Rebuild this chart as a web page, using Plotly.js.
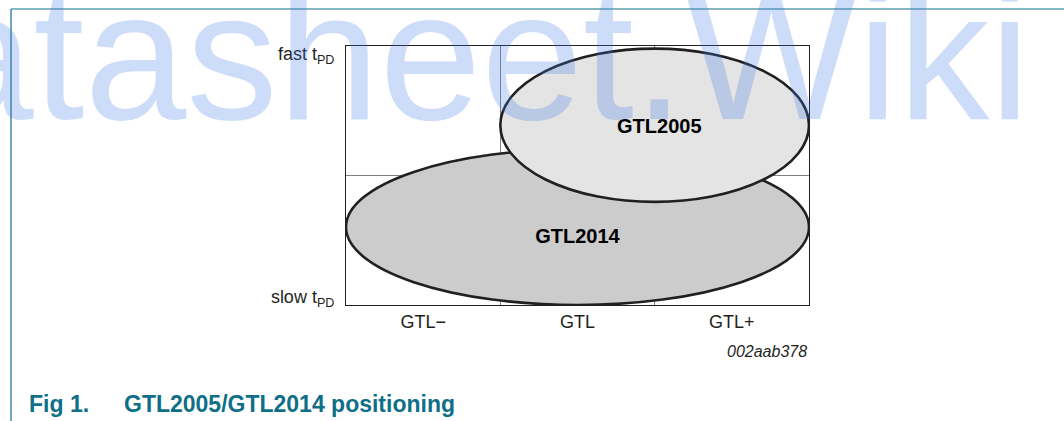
<!DOCTYPE html>
<html>
<head>
<meta charset="utf-8">
<script src="https://cdn.plot.ly/plotly-3.0.1.min.js"></script>
<style>
html,body{margin:0;padding:0;background:#fff;}
#chart{width:1064px;height:421px;}
</style>
</head>
<body>
<div id="chart"></div>
<script>
// ---- data ----
const xCategories = ['GTL\u2212', 'GTL', 'GTL+'];
const xCategoryCenters = [0.5, 1.5, 2.5];
const yTickLabels = ['slow t<sub>PD</sub>', 'fast t<sub>PD</sub>'];
const yTickVals = [0.032, 0.97];
const regionNames = ['GTL2014', 'GTL2005'];
const regionX0 = [0, 1];
const regionX1 = [3, 3];
const regionY0 = [0, 0.398];
const regionY1 = [0.602, 0.99];
const regionFill = ['#cccccc', '#e4e4e4'];
const labelX = [1.5, 2.03];
const labelY = [0.257, 0.683];
const figCode = '002aab378';
const figNumber = 'Fig 1.';
const figTitle = 'GTL2005/GTL2014 positioning';
const watermark = 'datasheet.Wiki';

const FONT = 'Liberation Sans, Arial, Helvetica, sans-serif';
const INK = '#231f20';
const TEAL = '#0f6f89';

const shapes = [];
// decorative page frame (teal)
shapes.push({type:'line', xref:'paper', yref:'paper', x0:-0.7235, x1:1.56, y0:1.1429, y1:1.1429,
  line:{color:TEAL, width:1}, layer:'below'});
shapes.push({type:'line', xref:'paper', yref:'paper', x0:-0.7235, x1:-0.7235, y0:1.1429, y1:-0.46,
  line:{color:TEAL, width:1.2}, layer:'below'});
// region ellipses (between gridlines and traces)
for (let i = 0; i < regionNames.length; i++) {
  shapes.push({type:'circle', xref:'x', yref:'y',
    x0:regionX0[i], x1:regionX1[i], y0:regionY0[i], y1:regionY1[i],
    fillcolor:regionFill[i], line:{color:INK, width:2.6}, layer:'between'});
}

const traces = [{
  type:'scatter', mode:'text', x:labelX, y:labelY, text:regionNames.map(t => '<b>'+t+'</b>'),
  textfont:{family:FONT, size:20, color:'#000'}, textposition:'middle center',
  hoverinfo:'skip', showlegend:false, cliponaxis:false
}];

const annotations = [
  {text:watermark, xref:'paper', yref:'paper', x:-1.119, y:0.963, xanchor:'left', yanchor:'middle',
   showarrow:false, font:{family:FONT, size:183, color:'rgba(60,120,230,0.26)'}},
  {text:'<i>'+figCode+'</i>', xref:'paper', yref:'paper', x:1, y:-0.181, xanchor:'right', yanchor:'middle',
   showarrow:false, font:{family:FONT, size:16, color:INK}},
  {text:'<b>'+figNumber+'</b>', xref:'paper', yref:'paper', x:(27-346)/463, y:-0.382, xanchor:'left', yanchor:'middle',
   showarrow:false, font:{family:FONT, size:23, color:TEAL}},
  {text:'<b>'+figTitle+'</b>', xref:'paper', yref:'paper', x:(122-346)/463, y:-0.382, xanchor:'left', yanchor:'middle',
   showarrow:false, font:{family:FONT, size:23, color:TEAL}}
];

const layout = {
  width:1064, height:421,
  margin:{l:346, r:255, t:46, b:116, pad:0},
  paper_bgcolor:'#fff', plot_bgcolor:'#fff',
  showlegend:false,
  font:{family:FONT, color:INK},
  xaxis:{range:[0,3], fixedrange:true, showline:true, mirror:true, linecolor:INK, linewidth:1,
    tickvals:xCategoryCenters, ticktext:xCategories, ticks:'', showgrid:false, zeroline:false,
    tickfont:{family:FONT, size:18, color:INK}, ticklabelstandoff:0,
    minor:{tick0:0, dtick:1, showgrid:true, gridcolor:'#808080', gridwidth:1.5, ticks:''}},
  yaxis:{range:[0,1], fixedrange:true, showline:true, mirror:true, linecolor:INK, linewidth:1,
    tickvals:yTickVals, ticktext:yTickLabels, ticks:'', showgrid:false, zeroline:false,
    tickfont:{family:FONT, size:18, color:INK}, ticklabelstandoff:7,
    minor:{tick0:0, dtick:0.5, showgrid:true, gridcolor:'#808080', gridwidth:1.5, ticks:''}},
  shapes:shapes,
  annotations:annotations
};

Plotly.newPlot('chart', traces, layout, {staticPlot:true, displayModeBar:false});
</script>
</body>
</html>
